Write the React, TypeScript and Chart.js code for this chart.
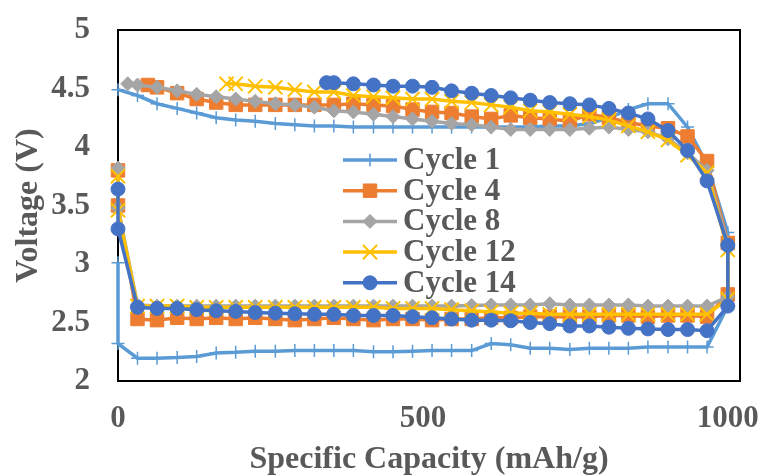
import React, { useEffect, useRef } from 'react';
import { Chart, registerables } from 'chart.js';
import { drawPoint } from 'chart.js/helpers';

Chart.register(...registerables);

const SERIES_LABELS = ['Cycle 1', 'Cycle 4', 'Cycle 8', 'Cycle 12', 'Cycle 14'];
const SERIES_COLORS = ['#5B9BD5', '#ED7D31', '#A5A5A5', '#FFC000', '#4472C4'];

const X_TICKS = [0, 500, 1000];
const Y_TICKS = [2, 2.5, 3, 3.5, 4, 4.5, 5];

// Discharge branch: specific capacity (mAh/g), shared by all cycles
const DISCHARGE_CAP = [0, 0, 32, 64, 97, 129, 161, 193, 225, 258, 290, 322, 354, 386, 419, 451, 483, 515, 547, 580, 612, 644, 676, 708, 741, 773, 805, 837, 869, 902, 934, 966, 1000];

const C1_DIS_V = [3.01, 2.32, 2.195, 2.195, 2.2, 2.21, 2.24, 2.245, 2.255, 2.255, 2.26, 2.26, 2.26, 2.26, 2.25, 2.25, 2.255, 2.26, 2.26, 2.26, 2.32, 2.31, 2.28, 2.28, 2.27, 2.28, 2.28, 2.28, 2.29, 2.29, 2.29, 2.29, 2.64];
const C4_DIS_V = [3.8, 3.5, 2.53, 2.52, 2.54, 2.53, 2.54, 2.53, 2.54, 2.53, 2.52, 2.53, 2.54, 2.53, 2.52, 2.53, 2.53, 2.52, 2.53, 2.53, 2.54, 2.54, 2.55, 2.55, 2.55, 2.55, 2.56, 2.56, 2.55, 2.56, 2.56, 2.55, 2.74];
const C8_DIS_V = [3.82, 3.48, 2.65, 2.64, 2.64, 2.64, 2.64, 2.64, 2.64, 2.64, 2.64, 2.64, 2.64, 2.64, 2.64, 2.64, 2.64, 2.64, 2.64, 2.645, 2.65, 2.65, 2.65, 2.66, 2.65, 2.65, 2.65, 2.65, 2.64, 2.64, 2.64, 2.64, 2.72];
const C12_DIS_V = [3.75, 3.46, 2.64, 2.64, 2.64, 2.63, 2.63, 2.63, 2.63, 2.63, 2.63, 2.63, 2.63, 2.63, 2.63, 2.62, 2.62, 2.62, 2.61, 2.6, 2.59, 2.58, 2.58, 2.57, 2.57, 2.57, 2.57, 2.57, 2.57, 2.57, 2.57, 2.57, 2.7];
const C14_DIS_V = [3.64, 3.3, 2.63, 2.62, 2.62, 2.61, 2.6, 2.595, 2.585, 2.58, 2.575, 2.57, 2.57, 2.56, 2.56, 2.56, 2.55, 2.54, 2.53, 2.52, 2.52, 2.515, 2.5, 2.49, 2.47, 2.47, 2.46, 2.45, 2.445, 2.44, 2.44, 2.43, 2.64];

// Charge branch: capacity axis runs back from 1000 toward 0
const C1_CHG_CAP = [1000, 966, 934, 902, 869, 837, 805, 773, 741, 708, 676, 644, 612, 580, 547, 515, 483, 451, 419, 386, 354, 322, 290, 258, 225, 193, 161, 129, 97, 64, 32, 0];
const C1_CHG_V = [3.27, 3.85, 4.17, 4.37, 4.37, 4.32, 4.25, 4.2, 4.18, 4.18, 4.17, 4.17, 4.17, 4.17, 4.17, 4.17, 4.17, 4.17, 4.17, 4.17, 4.18, 4.18, 4.19, 4.2, 4.22, 4.23, 4.25, 4.29, 4.33, 4.37, 4.44, 4.49];
const C4_CHG_CAP = [1000, 966, 934, 902, 869, 837, 805, 773, 741, 708, 676, 644, 612, 580, 547, 515, 483, 451, 419, 386, 354, 322, 290, 258, 225, 193, 161, 129, 97, 64, 49];
const C4_CHG_V = [3.18, 3.88, 4.09, 4.16, 4.18, 4.21, 4.25, 4.28, 4.22, 4.24, 4.25, 4.27, 4.24, 4.26, 4.29, 4.3, 4.32, 4.35, 4.36, 4.37, 4.36, 4.36, 4.36, 4.36, 4.36, 4.36, 4.38, 4.41, 4.46, 4.51, 4.53];
const C8_CHG_CAP = [1000, 966, 934, 902, 869, 837, 805, 773, 741, 708, 676, 644, 612, 580, 547, 515, 483, 451, 419, 386, 354, 322, 290, 258, 225, 193, 161, 129, 97, 64, 32, 16];
const C8_CHG_V = [3.17, 3.8, 3.95, 4.07, 4.13, 4.15, 4.17, 4.16, 4.15, 4.15, 4.15, 4.15, 4.17, 4.19, 4.2, 4.22, 4.24, 4.26, 4.28, 4.3, 4.31, 4.34, 4.36, 4.37, 4.39, 4.41, 4.43, 4.45, 4.48, 4.51, 4.53, 4.54];
const C12_CHG_CAP = [1000, 966, 934, 902, 869, 837, 805, 773, 741, 708, 676, 644, 612, 580, 547, 515, 483, 451, 419, 386, 354, 322, 290, 258, 225, 193, 178];
const C12_CHG_V = [3.12, 3.78, 3.93, 4.06, 4.13, 4.18, 4.23, 4.26, 4.28, 4.3, 4.31, 4.34, 4.36, 4.38, 4.39, 4.41, 4.41, 4.42, 4.43, 4.44, 4.47, 4.47, 4.49, 4.51, 4.52, 4.54, 4.54];
const C14_CHG_CAP = [1000, 966, 934, 902, 869, 837, 805, 773, 741, 708, 676, 644, 612, 580, 547, 515, 483, 451, 419, 386, 354, 342];
const C14_CHG_V = [3.16, 3.71, 3.97, 4.14, 4.24, 4.29, 4.33, 4.36, 4.37, 4.38, 4.4, 4.42, 4.44, 4.46, 4.48, 4.51, 4.52, 4.52, 4.53, 4.54, 4.55, 4.55];

const FONT = "'Liberation Serif', 'Times New Roman', serif";
const TEXT_COLOR = '#595959';

const pts = (xs: number[], ys: number[]) => xs.map((x, i) => ({ x, y: ys[i] }));

export default function App() {
  const ref = useRef<HTMLCanvasElement>(null);

  useEffect(() => {
    const dis = [C1_DIS_V, C4_DIS_V, C8_DIS_V, C12_DIS_V, C14_DIS_V];
    const chgCap = [C1_CHG_CAP, C4_CHG_CAP, C8_CHG_CAP, C12_CHG_CAP, C14_CHG_CAP];
    const chgV = [C1_CHG_V, C4_CHG_V, C8_CHG_V, C12_CHG_V, C14_CHG_V];
    const styles = [
      { pointStyle: 'cross', radius: 6.5, bw: 1.5 },
      { pointStyle: 'rect', radius: 9.5, bw: 1 },
      { pointStyle: 'rectRot', radius: 7, bw: 1 },
      { pointStyle: 'crossRot', radius: 10, bw: 2 },
      { pointStyle: 'circle', radius: 7, bw: 1 },
    ];
    const datasets = SERIES_LABELS.map((label, i) => ({
      label,
      data: [...pts(DISCHARGE_CAP, dis[i]), ...pts(chgCap[i], chgV[i])],
      showLine: true,
      borderColor: SERIES_COLORS[i],
      backgroundColor: SERIES_COLORS[i],
      borderWidth: 3.5,
      pointStyle: styles[i].pointStyle,
      pointRadius: styles[i].radius,
      pointBorderWidth: styles[i].bw,
      pointBorderColor: SERIES_COLORS[i],
      pointBackgroundColor: SERIES_COLORS[i],
      tension: 0,
      clip: false,
      order: 5 - i,
    }));

    const framePlugin = {
      id: 'frame',
      beforeDatasetsDraw(chart: any) {
        const { ctx, chartArea: a } = chart;
        ctx.save();
        ctx.strokeStyle = '#000';
        ctx.lineWidth = 2;
        ctx.strokeRect(a.left, a.top, a.right - a.left, a.bottom - a.top);
        ctx.restore();
      },
    };

    const legendPlugin = {
      id: 'innerLegend',
      afterDatasetsDraw(chart: any) {
        const { ctx } = chart;
        ctx.save();
        chart.data.datasets.forEach((ds: any, i: number) => {
          const y = 160 + i * 30.7;
          ctx.strokeStyle = ds.borderColor;
          ctx.lineWidth = 3.5;
          ctx.beginPath();
          ctx.moveTo(343, y);
          ctx.lineTo(397, y);
          ctx.stroke();
          ctx.fillStyle = ds.pointBackgroundColor;
          ctx.strokeStyle = ds.pointBorderColor;
          ctx.lineWidth = ds.pointBorderWidth;
          drawPoint(ctx, { pointStyle: ds.pointStyle, radius: ds.pointRadius, borderWidth: ds.pointBorderWidth, rotation: 0 } as any, 370, y);
          ctx.fillStyle = TEXT_COLOR;
          ctx.font = `bold 31px ${FONT}`;
          ctx.textBaseline = 'middle';
          ctx.textAlign = 'left';
          ctx.fillText(ds.label, 403, y + 1);
        });
        ctx.restore();
      },
    };

    const chart = new Chart(ref.current as HTMLCanvasElement, {
      type: 'scatter',
      data: { datasets: datasets as any },
      options: {
        animation: false,
        responsive: false,
        devicePixelRatio: 1,
        events: [],
        layout: { padding: { left: 0, right: 21, top: 30, bottom: 0 } },
        plugins: { legend: { display: false }, tooltip: { enabled: false } },
        scales: {
          x: {
            type: 'linear',
            min: 0,
            max: 1020,
            grid: { display: false, drawTicks: false },
            border: { display: false },
            afterBuildTicks: (s: any) => { s.ticks = X_TICKS.map((v) => ({ value: v })); },
            afterFit: (s: any) => { s.height = 95; s.paddingLeft = 0; s.paddingRight = 0; },
            ticks: {
              padding: 19,
              color: TEXT_COLOR,
              maxRotation: 0,
              autoSkip: false,
              font: { family: FONT, size: 31, weight: 'bold' },
              callback: (v: any) => String(v),
            },
            title: {
              display: true,
              text: 'Specific Capacity (mAh/g)',
              color: TEXT_COLOR,
              font: { family: FONT, size: 32, weight: 'bold', lineHeight: 1 },
              padding: 0,
            },
          },
          y: {
            type: 'linear',
            min: 2,
            max: 5,
            grid: { display: false, drawTicks: false },
            border: { display: false },
            afterBuildTicks: (s: any) => { s.ticks = Y_TICKS.map((v) => ({ value: v })); },
            afterFit: (s: any) => { s.width = 118; s.paddingTop = 0; s.paddingBottom = 0; },
            ticks: {
              padding: 28,
              color: TEXT_COLOR,
              autoSkip: false,
              font: { family: FONT, size: 31, weight: 'bold' },
              callback: (v: any) => String(v),
            },
            title: {
              display: true,
              text: 'Voltage (V)',
              color: TEXT_COLOR,
              font: { family: FONT, size: 32, weight: 'bold' },
              padding: { top: 10, bottom: 0 },
            },
          },
        },
      } as any,
      plugins: [framePlugin, legendPlugin],
    });
    return () => chart.destroy();
  }, []);

  return (
    <div style={{ position: 'absolute', left: 0, top: 0, width: 761, height: 476, background: '#fff' }}>
      <canvas ref={ref} width={761} height={476} style={{ display: 'block' }} />
    </div>
  );
}
